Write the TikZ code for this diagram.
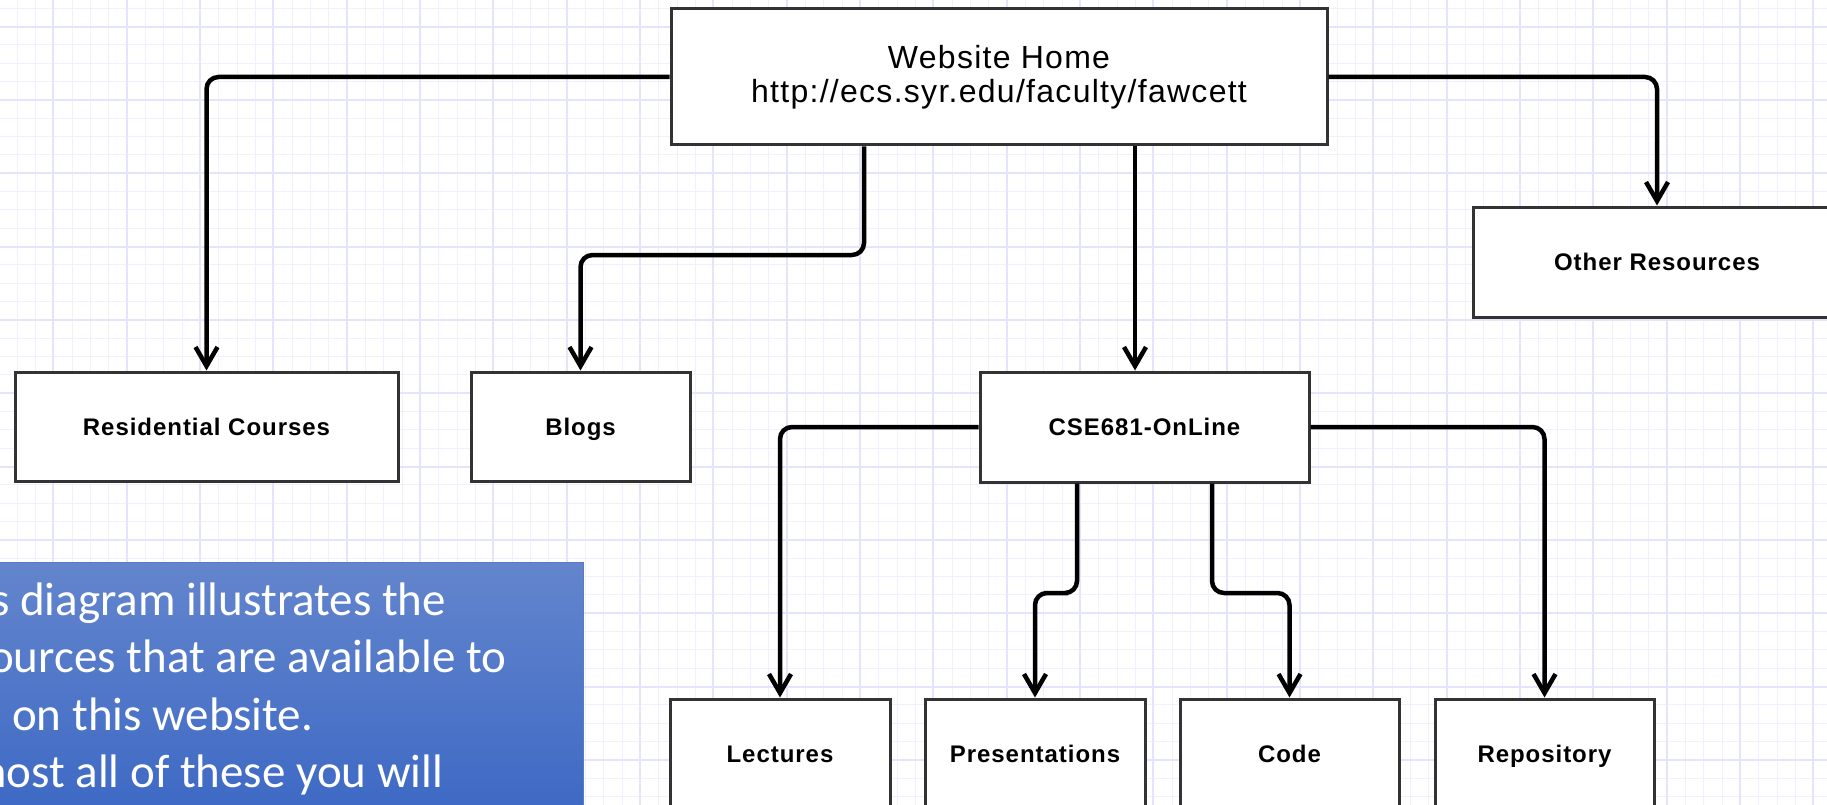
\documentclass[tikz,border=0pt]{standalone}
\usepackage{fontspec}
\setmainfont{Liberation Sans}
\newfontfamily\labfont{Liberation Sans}[LetterSpace=4]
\newfontfamily\calib{Carlito}
\usetikzlibrary{arrows.meta}
\definecolor{gridminor}{RGB}{240,240,255}
\definecolor{gridmajor}{RGB}{228,228,253}
\definecolor{boxline}{RGB}{51,51,51}
\definecolor{bluetop}{RGB}{99,133,205}
\definecolor{bluebot}{RGB}{60,104,196}
\begin{document}
\begin{tikzpicture}[x=1pt,y=-1pt,
  box/.style={draw=boxline, line width=3pt, fill=white, inner sep=0pt, align=center,
    text height=17.5pt, text depth=0pt,
    font=\labfont\fontsize{24}{28}\selectfont\bfseries},
  conn/.style={line width=4.5pt, rounded corners=12pt, -{Straight Barb[length=19pt,width=22pt]}},
  bluetxt/.style={text=white, inner sep=0pt, anchor=base west, font=\calib\fontsize{47}{57}\selectfont},
  ]
\useasboundingbox (0,0) rectangle (1827,805);
\clip (0,0) rectangle (1827,805);
\fill[white] (0,0) rectangle (1827,805);
% grid
\foreach \i in {0,...,99} \draw[gridminor, line width=1pt] ({17.33+18.333*\i},0) -- ({17.33+18.333*\i},805);
\foreach \j in {0,...,43} \draw[gridminor, line width=1pt] (0,{8.33+18.333*\j}) -- (1827,{8.33+18.333*\j});
\foreach \i in {0,...,24} \draw[gridmajor, line width=2pt] ({53.33+73.333*\i},0) -- ({53.33+73.333*\i},805);
\foreach \j in {0,...,10} \draw[gridmajor, line width=2pt] (0,{26.67+73.333*\j}) -- (1827,{26.67+73.333*\j});

% boxes
\node[box, minimum width=656pt, minimum height=136pt, text height=, text depth=,
      font=\labfont\fontsize{32}{34}\selectfont] (home) at (999,77)
      {Website Home\\http://ecs.syr.edu/faculty/fawcett};
\node[box, minimum width=368pt, minimum height=110pt] (other) at (1657,262) {Other Resources};
\node[box, minimum width=383pt, minimum height=109pt] (resid) at (206.5,426.5) {Residential Courses};
\node[box, minimum width=219pt, minimum height=109pt] (blogs) at (580.5,426.5) {Blogs};
\node[box, minimum width=329pt, minimum height=110pt] (cse) at (1144.5,427) {CSE681-OnLine};
\node[box, minimum width=220pt, minimum height=109pt] (lect) at (780,753.5) {Lectures};
\node[box, minimum width=220pt, minimum height=109pt] (pres) at (1035,753.5) {Presentations};
\node[box, minimum width=219pt, minimum height=109pt] (code) at (1289.5,753.5) {Code};
\node[box, minimum width=219pt, minimum height=109pt] (repo) at (1544.5,753.5) {Repository};

% connectors
\coordinate (hb) at (720,255);
\coordinate (cp) at (1056,593);
\coordinate (cc) at (1250,593);
\draw[conn] (home.west) -| (resid.north);
\draw[conn] (home.east) -| (other.north);
\draw[conn] ([xshift=-135pt]home.south) |- (hb) -| (blogs.north);
\draw[conn] ([xshift=136pt]home.south) -- ([xshift=136pt]home.south |- cse.north);
\draw[conn] (cse.west) -| (lect.north);
\draw[conn] ([xshift=-67.5pt]cse.south) |- (cp) -| (pres.north);
\draw[conn] ([xshift=67.5pt]cse.south) |- (cc) -| (code.north);
\draw[conn] (cse.east) -| (repo.north);

% note box
\node[draw={rgb,255:red,90;green,122;blue,196}, line width=1pt, top color=bluetop, bottom color=bluebot,
      minimum width=603pt, minimum height=260pt, anchor=north west, inner sep=0pt] (note) at (-20,562) {};
\node[bluetxt] (t1) at (-9,615) {s diagram illustrates the};
\node[bluetxt] (t2) at (-11,672) {ources that are available to};
\node[bluetxt] (t3) at (12,730) {on this website.};
\node[bluetxt] (t4) at (-31,787) {most all of these you will};
\end{tikzpicture}
\end{document}
